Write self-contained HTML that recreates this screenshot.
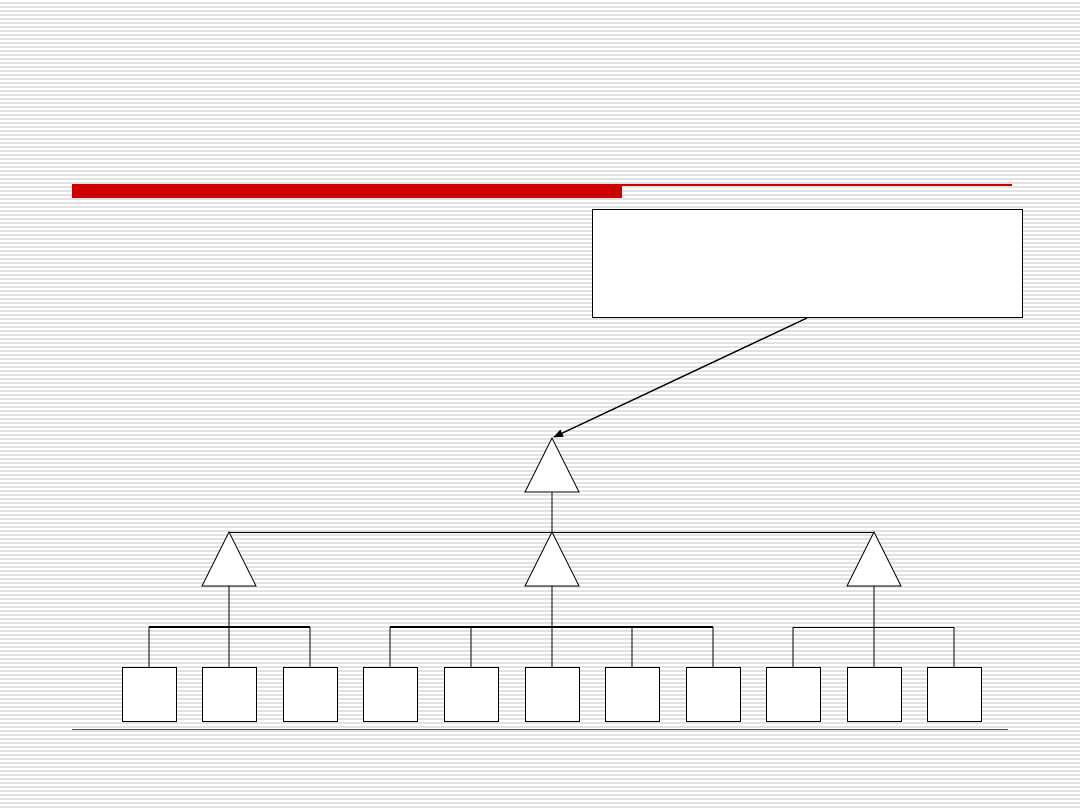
<!DOCTYPE html>
<html><head><style>
html,body{margin:0;padding:0;}
body{width:1080px;height:810px;overflow:hidden;background:repeating-linear-gradient(to bottom,#ffffff 0px,#ffffff 2px,#e2e2e2 2px,#e2e2e2 4px);}
</style></head><body>
<svg width="1080" height="810" style="position:absolute;left:0;top:0">
<defs><marker id="a" markerWidth="10" markerHeight="8" refX="9" refY="4" orient="auto" markerUnits="userSpaceOnUse"><path d="M0,0 L10,4 L0,8 z" fill="#000"/></marker></defs>
<rect x="72" y="184" width="550" height="14" fill="#cc0000"/>
<rect x="72" y="184" width="940" height="2" fill="#cc0000"/>
<rect x="72" y="729" width="936" height="1" fill="#a03030"/>
<rect x="592.5" y="209.5" width="430" height="108" fill="#fff" stroke="#000" stroke-width="1"/>
<line x1="807" y1="318" x2="554" y2="437" stroke="#000" stroke-width="1.5" marker-end="url(#a)"/>
<g stroke="#000" fill="#fff" stroke-width="1">
<polygon points="552,438 525,492 579,492"/>
<line x1="552" y1="492" x2="552" y2="532"/>
<line x1="229" y1="532.5" x2="874" y2="532.5"/>
<polygon points="229,532 202,586 256,586"/>
<polygon points="552,532 525,586 579,586"/>
<polygon points="874,532 847,586 901,586"/>
<line x1="229" y1="586" x2="229" y2="667"/>
<line x1="552" y1="586" x2="552" y2="667"/>
<line x1="874" y1="586" x2="874" y2="667"/>
<line x1="149" y1="627" x2="310" y2="627" stroke-width="2"/>
<line x1="390" y1="627" x2="713" y2="627" stroke-width="2"/>
<line x1="793" y1="627.5" x2="954" y2="627.5"/>
<line x1="149" y1="627" x2="149" y2="667"/>
<line x1="310" y1="627" x2="310" y2="667"/>
<line x1="390" y1="627" x2="390" y2="667"/>
<line x1="471" y1="627" x2="471" y2="667"/>
<line x1="632" y1="627" x2="632" y2="667"/>
<line x1="713" y1="627" x2="713" y2="667"/>
<line x1="793" y1="627" x2="793" y2="667"/>
<line x1="954" y1="627" x2="954" y2="667"/>
<rect x="122.5" y="667.5" width="54" height="54"/>
<rect x="202.5" y="667.5" width="54" height="54"/>
<rect x="283.5" y="667.5" width="54" height="54"/>
<rect x="363.5" y="667.5" width="54" height="54"/>
<rect x="444.5" y="667.5" width="54" height="54"/>
<rect x="525.5" y="667.5" width="54" height="54"/>
<rect x="605.5" y="667.5" width="54" height="54"/>
<rect x="686.5" y="667.5" width="54" height="54"/>
<rect x="766.5" y="667.5" width="54" height="54"/>
<rect x="847.5" y="667.5" width="54" height="54"/>
<rect x="927.5" y="667.5" width="54" height="54"/>
</g>
</svg>
</body></html>
